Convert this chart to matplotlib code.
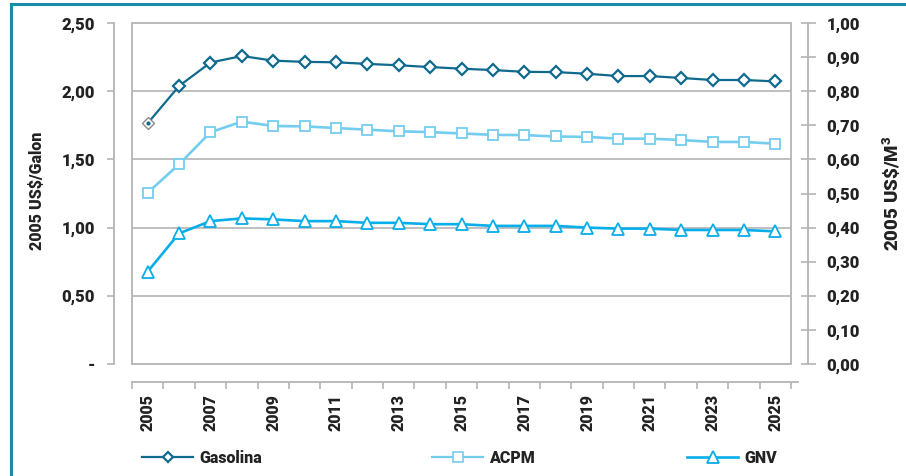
import matplotlib
matplotlib.use("Agg")
import matplotlib.pyplot as plt
from matplotlib.patches import Rectangle
from matplotlib.lines import Line2D

plt.rcParams['font.family'] = ['Roboto', 'Liberation Sans', 'DejaVu Sans']
plt.rcParams['font.weight'] = 'heavy'
plt.rcParams['axes.labelweight'] = 'heavy'
plt.rcParams['mathtext.default'] = 'regular'

years = list(range(2005, 2026))
gasolina = [1.765, 2.038, 2.21, 2.258, 2.224, 2.215, 2.212, 2.20, 2.19, 2.177, 2.165,
            2.155, 2.142, 2.14, 2.128, 2.111, 2.111, 2.097, 2.082, 2.082, 2.072]
acpm = [1.256, 1.464, 1.699, 1.777, 1.745, 1.742, 1.730, 1.718, 1.706, 1.70, 1.69,
        1.68, 1.678, 1.668, 1.665, 1.652, 1.652, 1.642, 1.628, 1.628, 1.615]
gnv = [0.271, 0.383, 0.419, 0.427, 0.424, 0.419, 0.419, 0.414, 0.414, 0.410, 0.410,
       0.405, 0.405, 0.405, 0.400, 0.397, 0.397, 0.393, 0.393, 0.393, 0.389]

left_ticks = [0.0, 0.5, 1.0, 1.5, 2.0, 2.5]
left_labels = ['-', '0,50', '1,00', '1,50', '2,00', '2,50']
right_ticks = [i / 10 for i in range(11)]
right_labels = [('%.2f' % v).replace('.', ',') for v in right_ticks]

C_GAS = '#0f6a8e'
C_ACPM = '#74cdef'
C_GNV = '#07aeea'
C_GRAY = '#b4b4b4'
C_TEXT = '#222222'
C_FRAME = '#1a8aa8'

PX = 72 / 100  # points per pixel at 100 dpi

fig = plt.figure(figsize=(9.06, 4.76), dpi=100)
ax = fig.add_axes([132 / 906, 1 - 364 / 476, 659 / 906, 341 / 476])
ax2 = ax.twinx()

x = list(range(len(years)))

# Plot area frame and gridlines
ax.add_patch(Rectangle((0, 0), 1, 1, transform=ax.transAxes, fill=False,
                       edgecolor=C_GRAY, lw=1.3, zorder=1, clip_on=False))
for v in [0.5, 1.0, 1.5, 2.0]:
    ax.axhline(v, color=C_GRAY, lw=1.2, zorder=1)

# Series
ax.plot(x, gasolina, color=C_GAS, lw=1.6, marker='D', ms=6.2, mfc='white',
        mec=C_GAS, mew=1.6, markevery=list(range(1, len(x))), zorder=4)
ax.plot([x[0]], [gasolina[0]], ls='none', marker='D', ms=6.2, mfc='white',
        mec='#8a8a8a', mew=1.0, zorder=5)
ax.plot([x[0]], [gasolina[0]], ls='none', marker='o', ms=2, color=C_GAS, zorder=6)
ax.plot(x, acpm, color=C_ACPM, lw=1.9, marker='s', ms=7.2, mfc='white',
        mec=C_ACPM, mew=1.3, zorder=4)
ax2.plot(x, gnv, color=C_GNV, lw=1.9, marker='^', ms=8, mfc='white',
         mec=C_GNV, mew=1.3, zorder=4)

ax.set_xlim(-0.5, len(x) - 0.5)
ax.set_ylim(0, 2.5)
ax2.set_ylim(0, 1.0)

# Left axis
for s in ['top', 'right']:
    ax.spines[s].set_visible(False)
ax.spines['left'].set_position(('outward', 18 * PX))
ax.spines['left'].set_color(C_GRAY)
ax.spines['left'].set_linewidth(1.3)
ax.spines['bottom'].set_position(('outward', 18 * PX))
ax.spines['bottom'].set_color(C_GRAY)
ax.spines['bottom'].set_linewidth(1.3)
ax.spines['bottom'].set_bounds(-0.5, 20.72)
ax.set_yticks(left_ticks)
ax.set_yticklabels(left_labels)
ax.tick_params(axis='y', direction='out', length=7 * PX, width=1.2, color=C_GRAY,
               labelsize=12, labelcolor=C_TEXT, pad=12 * PX)

# Category axis: tick marks between years, labels every other year
ax.set_xticks(x[::2])
ax.set_xticklabels([str(y) for y in years[::2]], rotation=90)
ax.set_xticks([i - 0.5 for i in range(len(x) + 1)], minor=True)
ax.tick_params(axis='x', which='major', length=0, labelsize=11.5, labelcolor=C_TEXT,
               pad=12 * PX)
ax.tick_params(axis='x', which='minor', direction='out', length=7 * PX, width=1.2,
               color=C_GRAY)

# Right axis
for s in ['top', 'left', 'bottom']:
    ax2.spines[s].set_visible(False)
ax2.spines['right'].set_position(('outward', 17 * PX))
ax2.spines['right'].set_color(C_GRAY)
ax2.spines['right'].set_linewidth(1.3)
ax2.set_yticks(right_ticks)
ax2.set_yticklabels(right_labels)
ax2.tick_params(axis='y', direction='inout', length=15 * PX, width=1.2, color=C_GRAY,
                labelsize=12, labelcolor=C_TEXT, pad=11 * PX)

ax.set_ylabel('2005 US\\$/Galon', fontsize=11.5, color=C_TEXT, fontweight='heavy')
ax.yaxis.set_label_coords(-0.132, 0.507)
ax2.set_ylabel('2005 US\\$/M$^3$', fontsize=13.5, color=C_TEXT, fontweight='heavy')
ax2.yaxis.set_label_coords(1.137, 0.50)

# Legend entries placed individually along the bottom
handles = [
    (Line2D([], [], color=C_GAS, lw=1.6, marker='D', ms=5, mfc='white', mec=C_GAS, mew=1.6), 'Gasolina', 142),
    (Line2D([], [], color=C_ACPM, lw=1.6, marker='s', ms=7, mfc='white', mec=C_ACPM, mew=1.2), 'ACPM', 432),
    (Line2D([], [], color=C_GNV, lw=1.9, marker='^', ms=8, mfc='white', mec=C_GNV, mew=1.3), 'GNV', 687),
]
for h, lab, px in handles:
    lg = fig.legend([h], [lab], loc='center left', bbox_to_anchor=(px / 906, 1 - 458 / 476),
                    frameon=False, fontsize=11.5, handlelength=3.2, handletextpad=0.4,
                    borderpad=0, borderaxespad=0)
    for t in lg.get_texts():
        t.set_color(C_TEXT)

# Outer frame (left and top edges)
fig.add_artist(Line2D([11 / 906, 11 / 906], [0, 1 - 4 / 476], color=C_FRAME, lw=2.2,
                      transform=fig.transFigure))
fig.add_artist(Line2D([11 / 906, 1], [1 - 4 / 476, 1 - 4 / 476], color=C_FRAME, lw=2.2,
                      transform=fig.transFigure))

fig.savefig('out.png', dpi=100, facecolor='white')
